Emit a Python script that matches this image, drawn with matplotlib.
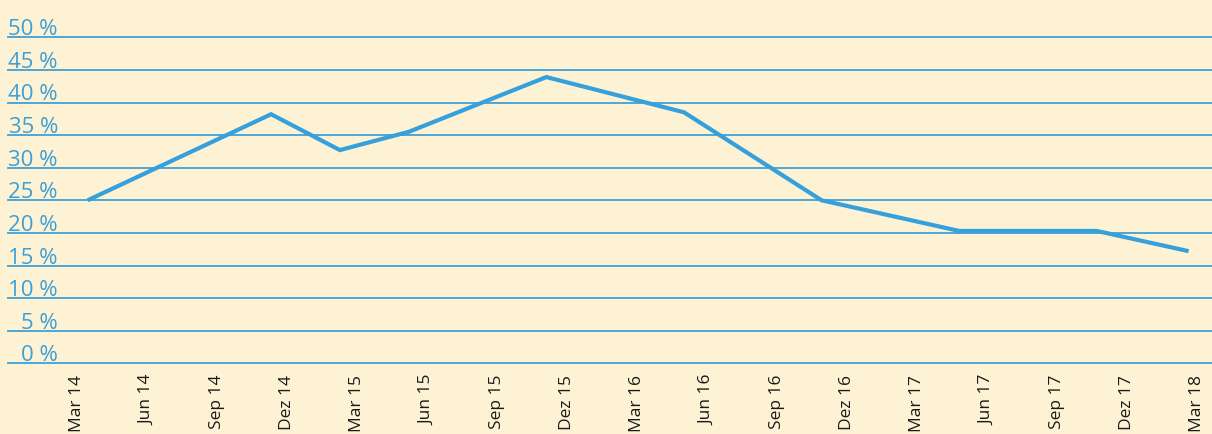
import matplotlib
matplotlib.use("Agg")
import matplotlib.pyplot as plt
import numpy as np

# Data: months since Mar 2014, share in percent
months = [0, 8, 11, 14, 20, 26, 32, 38, 44, 48]
values = [25.0, 38.2, 32.7, 35.5, 43.9, 38.5, 25.0, 20.3, 20.3, 17.2]

x_labels = ["Mar 14", "Jun 14", "Sep 14", "Dez 14", "Mar 15", "Jun 15", "Sep 15",
            "Dez 15", "Mar 16", "Jun 16", "Sep 16", "Dez 16", "Mar 17", "Jun 17",
            "Sep 17", "Dez 17", "Mar 18"]
y_ticks = [0, 5, 10, 15, 20, 25, 30, 35, 40, 45, 50]
y_labels = [f"{v} %" for v in y_ticks]

BG = "#fdf3d4"
BLUE = "#36a0dc"
GRID = "#3f9fd6"

plt.rcParams["font.family"] = ["Open Sans", "DejaVu Sans"]

W, H = 1212, 435
fig = plt.figure(figsize=(W / 100, H / 100), dpi=100, facecolor=BG)
left, right = 8 / W, 1.0
bottom, top = (H - 364.3) / H, (H - 38.3) / H
ax = fig.add_axes([left, bottom, right - left, top - bottom], facecolor=BG)

ax.set_ylim(0, 50)
ax.set_xlim(-3.47, 49.02)

for v in y_ticks:
    ax.axhline(v, color=GRID, lw=1.3, zorder=1, clip_on=False)

ax.plot(months, values, color=BLUE, lw=3.0, zorder=3, solid_joinstyle="miter",
        solid_capstyle="butt")

for v, lab in zip(y_ticks, y_labels):
    ax.annotate(lab, xy=(0, v), xycoords=("axes fraction", "data"),
                xytext=(50 * 0.72, 3 * 0.72), textcoords="offset points",
                ha="right", va="baseline", fontsize=16, color="#3d9fd8")

tick_pos = np.arange(len(x_labels)) * 3.05 - 0.45
ax.set_xticks(tick_pos)
ax.set_xticklabels(x_labels, rotation=90, fontsize=12.5, color="#1a1a1a")
ax.tick_params(axis="x", length=0, pad=7.5)
ax.set_yticks([])
for s in ax.spines.values():
    s.set_visible(False)

fig.savefig("out.png", dpi=100, facecolor=BG)
